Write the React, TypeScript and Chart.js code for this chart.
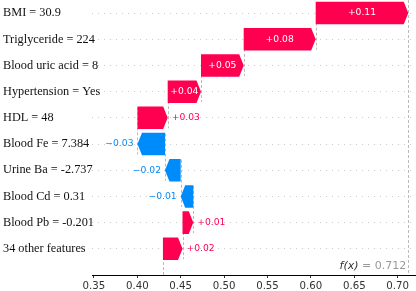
import React, { useEffect, useRef } from "react";
import { Chart, registerables } from "chart.js";

Chart.register(...registerables);

// ---- data (top row first) ----
const featureLabels = [
  "BMI = 30.9",
  "Triglyceride = 224",
  "Blood uric acid = 8",
  "Hypertension = Yes",
  "HDL = 48",
  "Blood Fe = 7.384",
  "Urine Ba = -2.737",
  "Blood Cd = 0.31",
  "Blood Pb = -0.201",
  "34 other features",
];
const shapValues = [0.1067, 0.0829, 0.0492, 0.0384, 0.0348, -0.0317, -0.0181, -0.0145, 0.0124, 0.0226];
const valueLabels = ["+0.11", "+0.08", "+0.05", "+0.04", "+0.03", "\u22120.03", "\u22120.02", "\u22120.01", "+0.01", "+0.02"];
const baseValue = 0.4295;
const fxText = "0.712";
const xTickValues = [0.35, 0.4, 0.45, 0.5, 0.55, 0.6, 0.65, 0.7];
const xTickLabels = ["0.35", "0.40", "0.45", "0.50", "0.55", "0.60", "0.65", "0.70"];
const xMin = 0.3478;
const xMax = 0.7211;

const RED = "#ff0051";
const BLUE = "#008bfb";
const AXIS = "#333333";

function buildSegments(): [number, number][] {
  const n = shapValues.length;
  const segs: [number, number][] = new Array(n);
  let loc = baseValue;
  for (let i = n - 1; i >= 0; i--) {
    const start = loc;
    const end = loc + shapValues[i];
    segs[i] = [start, end];
    loc = end;
  }
  return segs;
}

export default function App() {
  const ref = useRef<HTMLCanvasElement | null>(null);

  useEffect(() => {
    document.body.style.margin = "0";
    const canvas = ref.current;
    if (!canvas) return;
    const segs = buildSegments();
    const n = segs.length;

    const waterfall = {
      id: "waterfall",
      beforeDatasetsDraw(chart: any) {
        const { ctx, chartArea } = chart;
        const x = chart.scales.x;
        const y = chart.scales.y;
        ctx.save();
        // feature labels (left aligned, may overlap the plot area)
        ctx.font = "12.3px 'Liberation Serif'";
        ctx.fillStyle = "#111111";
        ctx.textAlign = "left";
        ctx.textBaseline = "middle";
        featureLabels.forEach((lab, i) => {
          ctx.fillText(lab, 3, y.getPixelForValue(i));
        });

        ctx.strokeStyle = "#bbbbbb";
        ctx.lineWidth = 1;
        ctx.setLineDash([3, 2]);
        for (let i = 0; i < n - 1; i++) {
          const px = Math.round(x.getPixelForValue(segs[i][0])) + 0.5;
          ctx.beginPath();
          ctx.moveTo(px, y.getPixelForValue(i - 0.4));
          ctx.lineTo(px, y.getPixelForValue(i + 1.4));
          ctx.stroke();
        }
        const fxPx = Math.round(x.getPixelForValue(segs[0][1])) + 0.5;
        ctx.beginPath();
        ctx.moveTo(fxPx, chartArea.top);
        ctx.lineTo(fxPx, chartArea.bottom);
        ctx.stroke();
        const bPx = Math.round(x.getPixelForValue(baseValue)) + 0.5;
        ctx.beginPath();
        ctx.moveTo(bPx, chartArea.bottom);
        ctx.lineTo(bPx, chartArea.bottom - (chartArea.bottom - chartArea.top) / n);
        ctx.stroke();
        ctx.restore();
      },
      afterDatasetsDraw(chart: any) {
        const { ctx } = chart;
        const x = chart.scales.x;
        const y = chart.scales.y;
        const meta = chart.getDatasetMeta(0);
        ctx.save();
        const valFont = "9.2px 'DejaVu Sans'";
        meta.data.forEach((el: any, i: number) => {
          const left = Math.min(el.x, el.base);
          const right = Math.max(el.x, el.base);
          const top = el.y - el.height / 2;
          const bottom = el.y + el.height / 2;
          const len = right - left;
          const hl = Math.min(4.5, len);
          const pos = shapValues[i] >= 0;
          ctx.fillStyle = pos ? RED : BLUE;
          ctx.beginPath();
          if (pos) {
            ctx.moveTo(left, top);
            ctx.lineTo(right - hl, top);
            ctx.lineTo(right, el.y);
            ctx.lineTo(right - hl, bottom);
            ctx.lineTo(left, bottom);
          } else {
            ctx.moveTo(right, top);
            ctx.lineTo(left + hl, top);
            ctx.lineTo(left, el.y);
            ctx.lineTo(left + hl, bottom);
            ctx.lineTo(right, bottom);
          }
          ctx.closePath();
          ctx.fill();

          ctx.font = valFont;
          ctx.textBaseline = "middle";
          const txt = valueLabels[i];
          const w = ctx.measureText(txt).width;
          if (len > w + 3) {
            ctx.fillStyle = "#ffffff";
            ctx.textAlign = "center";
            ctx.fillText(txt, (left + right) / 2, el.y);
          } else if (pos) {
            ctx.fillStyle = RED;
            ctx.textAlign = "left";
            ctx.fillText(txt, right + 4, el.y);
          } else {
            ctx.fillStyle = BLUE;
            ctx.textAlign = "right";
            ctx.fillText(txt, left - 4, el.y);
          }
        });

        // f(x) label
        const fxPx = x.getPixelForValue(segs[0][1]);
        const ty = y.getPixelForValue(9.68);
        ctx.textBaseline = "middle";
        ctx.textAlign = "right";
        ctx.font = "11px 'DejaVu Sans'";
        const gray = "= " + fxText;
        const gw = ctx.measureText(gray).width;
        const sw = ctx.measureText(" ").width;
        ctx.fillStyle = "#999999";
        ctx.fillText(gray, fxPx - 2, ty);
        ctx.font = "italic 11px 'DejaVu Sans'";
        ctx.fillStyle = AXIS;
        ctx.fillText("f(x)", fxPx - 2 - gw - sw, ty);
        ctx.restore();
      },
    };

    const chart = new Chart(canvas, {
      type: "bar",
      data: {
        datasets: [
          {
            data: segs.map((s, i) => ({ x: [s[0], s[1]], y: i })) as any,
            backgroundColor: "rgba(0,0,0,0)",
            borderWidth: 0,
            barPercentage: 0.86,
            categoryPercentage: 1,
          },
        ],
      },
      options: {
        indexAxis: "y",
        animation: false,
        responsive: false,
        devicePixelRatio: 1,
        layout: { padding: 0 },
        plugins: { legend: { display: false }, tooltip: { enabled: false } },
        scales: {
          x: {
            type: "linear",
            min: xMin,
            max: xMax,
            offset: false,
            afterFit: (s: any) => {
              s.height = 16;
            },
            afterBuildTicks: (s: any) => {
              s.ticks = xTickValues.map((v) => ({ value: v }));
            },
            grid: { display: true, drawOnChartArea: false, drawTicks: true, tickLength: 3, color: AXIS, lineWidth: 1, offset: false },
            border: { display: true, color: "#000000", width: 1 },
            ticks: {
              autoSkip: false,
              maxRotation: 0,
              padding: 2,
              color: AXIS,
              font: { family: "'DejaVu Sans'", size: 10.2 },
              callback: (v: any) => {
                const idx = xTickValues.findIndex((t) => Math.abs(t - v) < 1e-9);
                return idx >= 0 ? xTickLabels[idx] : "";
              },
            },
          },
          y: {
            type: "linear",
            min: -0.5,
            max: 10,
            reverse: true,
            offset: false,
            afterFit: (s: any) => {
              s.width = 92;
            },
            afterBuildTicks: (s: any) => {
              s.ticks = featureLabels.map((_, i) => ({ value: i }));
            },
            grid: { display: true, drawTicks: false, color: "#cccccc", lineWidth: 1, offset: false },
            border: { display: false, dash: [1, 5] },
            ticks: { display: false, autoSkip: false },
          },
        },
      },
      plugins: [waterfall],
    } as any);

    return () => chart.destroy();
  }, []);

  return (
    <div style={{ width: 416, height: 291, position: "relative" }}>
      <canvas ref={ref} width={416} height={291} style={{ display: "block" }} />
    </div>
  );
}
